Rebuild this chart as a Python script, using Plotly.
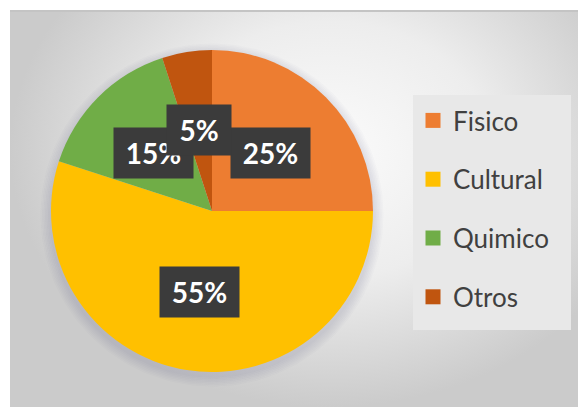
import numpy as np
import plotly.graph_objects as go

categories = ["Fisico", "Cultural", "Quimico", "Otros"]
values = [25, 55, 15, 5]
colors = ["#ED7D31", "#FFC000", "#70AD47", "#C0550F"]
label_texts = [f"{v}%" for v in values]

W, H = 578, 407
CX, CY, R = 212, 211, 161

fig = go.Figure()

# chart-area background with radial gradient
fig.add_trace(go.Scatter(
    x=[10, 650, 650, 10, 10], y=[-107, -107, 407, 407, -107],
    mode="lines", line=dict(width=0), fill="toself",
    fillgradient=dict(type="radial",
                      colorscale=[[0, "#fbfbfb"], [0.5, "#ededed"], [1, "#cbcbcb"]]),
    hoverinfo="skip", showlegend=False))

# soft shadow around the pie
th = np.linspace(0, 2 * np.pi, 240)
for k in range(1, 8):
    rr = R + k * 1.5
    fig.add_trace(go.Scatter(
        x=CX + rr * np.cos(th), y=CY + 4 + rr * np.sin(th),
        mode="lines", line=dict(width=0), fill="toself",
        fillcolor="rgba(90,90,110,0.022)", hoverinfo="skip", showlegend=False))

fig.add_trace(go.Pie(
    labels=categories, values=values, sort=False, direction="clockwise", rotation=0,
    marker=dict(colors=colors, line=dict(width=0)), textinfo="none", showlegend=False,
    domain=dict(x=[(CX - R) / W, (CX + R) / W], y=[1 - (CY + R) / H, 1 - (CY - R) / H])))

# legend entries
for name, c in zip(categories, colors):
    fig.add_trace(go.Scatter(x=[None], y=[None], mode="markers", name=name, legendgroup=name,
                             marker=dict(symbol="square", size=15, color=c)))

# data labels
total = sum(values)
annotations = []
cum = 0
for v, t in zip(values, label_texts):
    mid = (cum + v / 2) / total * 2 * np.pi
    cum += v
    xp = CX + 0.51 * R * np.sin(mid)
    yp = CY - 0.51 * R * np.cos(mid)
    annotations.append(dict(
        x=xp / W, y=1 - yp / H, xref="paper", yref="paper", text=t, showarrow=False,
        xanchor="center", yanchor="middle",
        bgcolor="#3b3b3b", width=34 + 15 * len(t), height=50, borderpad=0,
        font=dict(family="Lato", size=28, color="white", weight="bold")))

fig.update_layout(
    width=W, height=H, margin=dict(l=0, r=0, t=0, b=0),
    paper_bgcolor="white", plot_bgcolor="rgba(0,0,0,0)",
    xaxis=dict(domain=[10 / W, 1], range=[10, W], visible=False, fixedrange=True),
    yaxis=dict(domain=[0, 1 - 10 / H], range=[H, 10], visible=False, fixedrange=True),
    legend=dict(x=413 / W, y=1 - 97 / H, xanchor="left", yanchor="top",
                bgcolor="rgba(0,0,0,0)",
                font=dict(family="Lato", size=26, color="#404040"),
                traceorder="grouped", tracegroupgap=22),
    annotations=annotations,
    shapes=[
        dict(type="line", xref="paper", yref="paper", x0=10 / W, x1=1,
             y0=1 - 11 / H, y1=1 - 11 / H, line=dict(color="#c4c4c4", width=2)),
        dict(type="rect", xref="paper", yref="paper", x0=413 / W, x1=571 / W,
             y0=1 - 330 / H, y1=1 - 95 / H, fillcolor="#e8e8e8", line=dict(width=0),
             layer="above"),
    ],
)

fig.write_html("out.html")
